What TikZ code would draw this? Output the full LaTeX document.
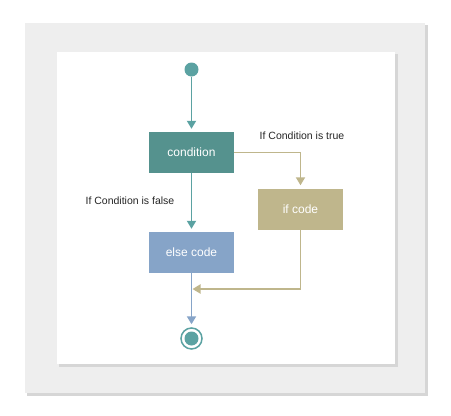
\documentclass[tikz,border=0pt]{standalone}
\usepackage{fontspec}
\setmainfont{Liberation Sans}
\usetikzlibrary{arrows.meta}
\definecolor{panelgray}{HTML}{EEEEEE}
\definecolor{shadegray}{HTML}{D6D6D6}
\definecolor{condteal}{HTML}{55928E}
\definecolor{dotteal}{HTML}{5BA2A2}
\definecolor{ifkhaki}{HTML}{BFB68C}
\definecolor{elseblue}{HTML}{86A4C8}

\tikzset{
  block/.style={rectangle,minimum width=85pt,minimum height=41pt,text=white,
    font=\fontsize{12}{14}\selectfont},
  flow/.style={line width=1.8pt,-{Triangle[width=9pt,length=8pt]}},
  lbl/.style={font=\fontsize{10.5}{12}\selectfont,text=black!85}
}

\begin{document}
\begin{tikzpicture}[x=1pt,y=-1pt]
    \useasboundingbox (0,0) rectangle (451,416);
    % panels
    \fill[shadegray] (27,25) rectangle (428,396);
    \fill[panelgray] (25,23) rectangle (425,393);
    \fill[shadegray] (59,54) rectangle (398,367);
    \fill[white] (57,52) rectangle (395,364);

    % nodes
    \node (start) at (191.5,69.5) [circle,fill=dotteal,minimum size=14pt,inner sep=0pt] {};
    \node (cond) at (191.5,152.5) [block,fill=condteal] {condition};
    \node (ifc) at (300.5,209) [block,fill=ifkhaki] {if code};
    \node (elsec) at (191.5,252.5) [block,fill=elseblue] {else code};
    \node (stop) at (191.5,338.5) [circle,draw=dotteal,line width=1.5pt,fill=white,minimum size=21pt,inner sep=0pt] {};
    \node (stopdot) at (stop) [circle,fill=dotteal,minimum size=14pt,inner sep=0pt] {};
    \coordinate (merge) at (191.5,289);

    \node (truelbl) at (302,136) [lbl] {If Condition is true};
    \node (falselbl) at (130,201) [lbl] {If Condition is false};

    % connectors
    \draw [flow,dotteal,shorten >=3pt] (start) -- (cond);
    \draw [flow,dotteal,shorten >=3pt] (cond) -- (elsec);
    \draw [flow,ifkhaki,shorten >=3pt] (cond.east) -| (ifc.north);
    \draw [flow,elseblue,shorten >=3pt] (elsec) -- (stop);
    \draw [flow,ifkhaki,shorten >=1pt] (ifc.south) |- (merge);
\end{tikzpicture}
\end{document}
